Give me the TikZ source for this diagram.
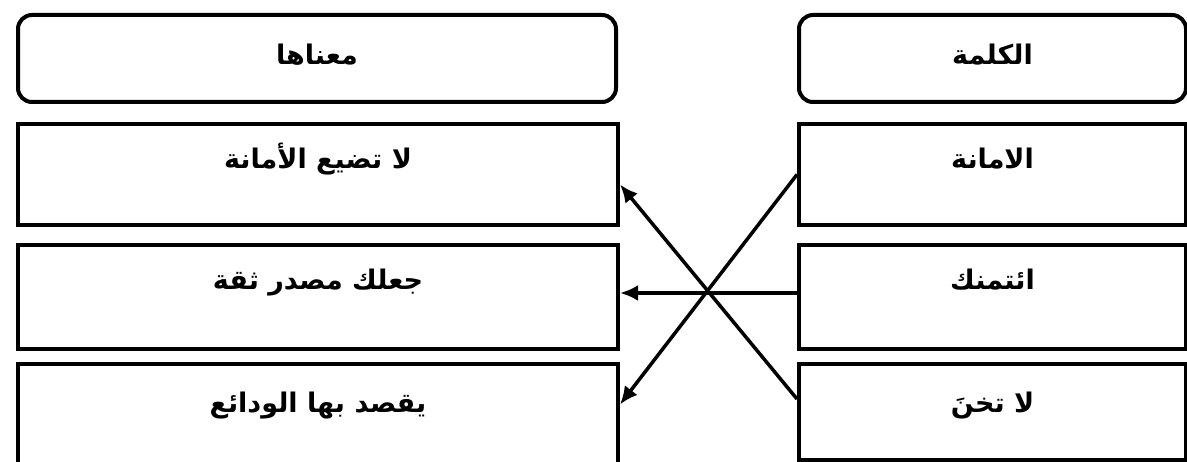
\documentclass[tikz,border=0pt]{standalone}
\usepackage{fontspec}
\usetikzlibrary{arrows.meta}
\TeXXeTstate=1
\newfontfamily\arabicfont[Script=Arabic]{DejaVu Sans}
\newcommand{\artxt}[1]{\beginR#1\endR}

\begin{document}
\begin{tikzpicture}
		[x=1pt,y=-1pt,
		cell/.style={draw,line width=4pt,inner sep=0pt,anchor=north west,
			text height=45pt,font=\arabicfont\bfseries\fontsize{27}{30}\selectfont},
		head/.style={cell,rounded corners=14pt,text height=50pt,text depth=37pt},
		link/.style={line width=3.5pt,-{Latex[length=18pt,width=16pt]}}]
		\useasboundingbox (0,0) rectangle (1187,462);

		% left column: meanings
		\node [head,minimum width=598pt] (mhead) at (16,13) {\artxt{معناها}};
		\node [cell,minimum width=600pt,text depth=56pt] (m1) at (16,122) {\artxt{لا تضيع الأمانة}};
		\node [cell,minimum width=600pt,text depth=59pt] (m2) at (16,243) {\artxt{جعلك مصدر ثقة}};
		\node [cell,minimum width=600pt,text height=49pt,text depth=66pt] (m3) at (16,362) {\artxt{يقصد بها الودائع}};

		% right column: words
		\node [head,minimum width=387pt] (whead) at (797,13) {\artxt{الكلمة}};
		\node [cell,minimum width=387pt,text depth=56pt] (w1) at (797,122) {\artxt{الامانة}};
		\node [cell,minimum width=387pt,text depth=59pt] (w2) at (797,243) {\artxt{ائتمنك}};
		\node [cell,minimum width=387pt,text height=49pt,text depth=47pt] (w3) at (797,362) {\artxt{لا تخنَ}};

		% the matching arrows
		\draw [link] (w1.west) -- ([yshift=17pt]m3.east);
		\draw [link] ([yshift=4pt]w2.west) -- ([yshift=4pt]m2.east);
		\draw [link] ([yshift=13pt]w3.west) -- ([yshift=-10pt]m1.east);
\end{tikzpicture}
\end{document}
